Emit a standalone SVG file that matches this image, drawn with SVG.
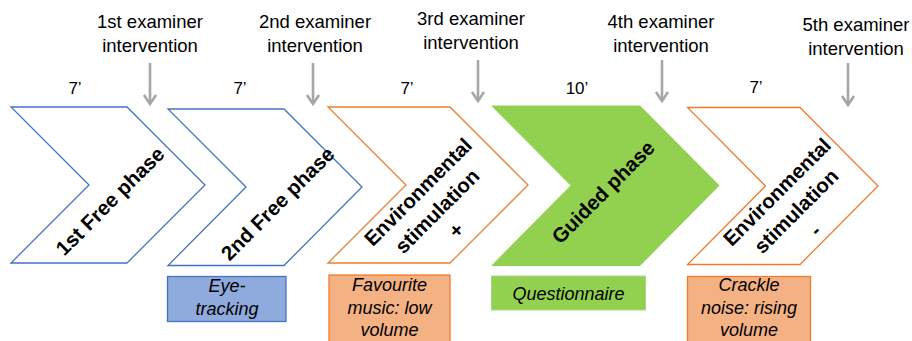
<svg xmlns="http://www.w3.org/2000/svg" width="912" height="341" viewBox="0 0 912 341">
<style>
.lbl{font-family:"Liberation Sans",Arial,sans-serif;font-size:18.5px;fill:#000;text-anchor:middle}
.dur{font-family:"Liberation Sans",Arial,sans-serif;font-size:17px;fill:#000;text-anchor:middle}
.ph{font-family:"Liberation Sans",Arial,sans-serif;font-size:20.5px;font-weight:bold;fill:#000;text-anchor:middle}
.box{font-family:"Liberation Sans",Arial,sans-serif;font-size:18px;font-style:italic;fill:#000;text-anchor:middle}
.blue{fill:#fff;stroke:#4472C4;stroke-width:1.3}
.orange{fill:#fff;stroke:#ED7D31;stroke-width:1.3}
.green{fill:#92D050;stroke:#92D050;stroke-width:1}
.arr{stroke:#A6A6A6;stroke-width:2.6;fill:none;marker-end:url(#ah)}
</style>
<defs>
<marker id="ah" markerUnits="userSpaceOnUse" viewBox="-12 -8 16 16" refX="0" refY="0" markerWidth="16" markerHeight="16" orient="auto">
<path d="M-9,-6 L0,0 L-9,6" fill="none" stroke="#A6A6A6" stroke-width="2.6"/>
</marker>
</defs>

<g id="labels">
<text class="lbl" x="150" y="28">1st examiner</text>
<text class="lbl" x="150" y="52">intervention</text>
<text class="lbl" x="315" y="28">2nd examiner</text>
<text class="lbl" x="315" y="52">intervention</text>
<text class="lbl" x="471" y="25">3rd examiner</text>
<text class="lbl" x="471" y="49">intervention</text>
<text class="lbl" x="661" y="28">4th examiner</text>
<text class="lbl" x="661" y="52">intervention</text>
<text class="lbl" x="856" y="31">5th examiner</text>
<text class="lbl" x="856" y="55">intervention</text>
<text class="dur" x="75" y="94">7’</text>
<text class="dur" x="240" y="94">7’</text>
<text class="dur" x="407" y="94">7’</text>
<text class="dur" x="577" y="94">10’</text>
<text class="dur" x="756" y="93">7’</text>
</g>

<g id="connectors">
<line class="arr" x1="150" y1="63" x2="150" y2="104"/>
<line class="arr" x1="313" y1="63" x2="313" y2="104"/>
<line class="arr" x1="478" y1="60" x2="478" y2="101"/>
<line class="arr" x1="662" y1="60" x2="662" y2="101"/>
<line class="arr" x1="848" y1="63" x2="848" y2="105"/>
</g>

<g id="phase1">
<path class="blue" d="M11,107 L127,107 L205,185 L127,263 L11,263 L89,185 Z"/>
<text class="ph" transform="translate(110,201) rotate(-45)" dy="0.35em">1st Free phase</text>
</g>
<g id="phase2">
<path class="blue" d="M168,109 L284,109 L362,187 L284,265.5 L168,265.5 L246,187 Z"/>
<text class="ph" transform="translate(277.5,203.5) rotate(-45)" dy="0.35em">2nd Free phase</text>
</g>
<g id="phase3">
<path class="orange" d="M328,107 L450,107 L528,185 L450,263 L328,263 L406,185 Z"/>
<g transform="translate(437,211) rotate(-45)">
<text class="ph" x="0" y="-27" dy="0.35em">Environmental</text>
<text class="ph" x="0" y="0" dy="0.35em">stimulation</text>
<text class="ph" x="0" y="27" dy="0.35em">+</text>
</g>
</g>
<g id="phase4">
<path class="green" d="M492,106 L640,106 L719,185.5 L640,265.5 L492,265.5 L571,185.5 Z"/>
<text class="ph" transform="translate(603,192) rotate(-45)" dy="0.35em">Guided phase</text>
</g>
<g id="phase5">
<path class="orange" d="M687.5,107.5 L800,107.5 L878,186 L800,264.5 L687.5,264.5 L765.5,186 Z"/>
<g transform="translate(796,211) rotate(-45)">
<text class="ph" x="0" y="-27" dy="0.35em">Environmental</text>
<text class="ph" x="0" y="0" dy="0.35em">stimulation</text>
<text class="ph" x="0" y="27" dy="0.35em">-</text>
</g>
</g>

<g id="box-eye">
<rect x="167.5" y="276.5" width="118.5" height="45" fill="#8FAADC" stroke="#4472C4" stroke-width="1.3"/>
<text class="box" x="227" y="292">Eye-</text>
<text class="box" x="227" y="315">tracking</text>
</g>
<g id="box-music">
<rect x="329" y="275" width="121" height="72" fill="#F4B183" stroke="#ED7D31" stroke-width="1.3"/>
<text class="box" x="389.5" y="291">Favourite</text>
<text class="box" x="389.5" y="313.5">music: low</text>
<text class="box" x="389.5" y="336">volume</text>
</g>
<g id="box-quest">
<rect x="491.5" y="276" width="154" height="34" fill="#92D050" stroke="#A9D88A" stroke-width="1"/>
<text class="box" x="568.5" y="299.5">Questionnaire</text>
</g>
<g id="box-crackle">
<rect x="687.5" y="276.5" width="123" height="72" fill="#F4B183" stroke="#ED7D31" stroke-width="1.3"/>
<text class="box" x="749" y="291">Crackle</text>
<text class="box" x="749" y="313.5">noise: rising</text>
<text class="box" x="749" y="336">volume</text>
</g>
</svg>
